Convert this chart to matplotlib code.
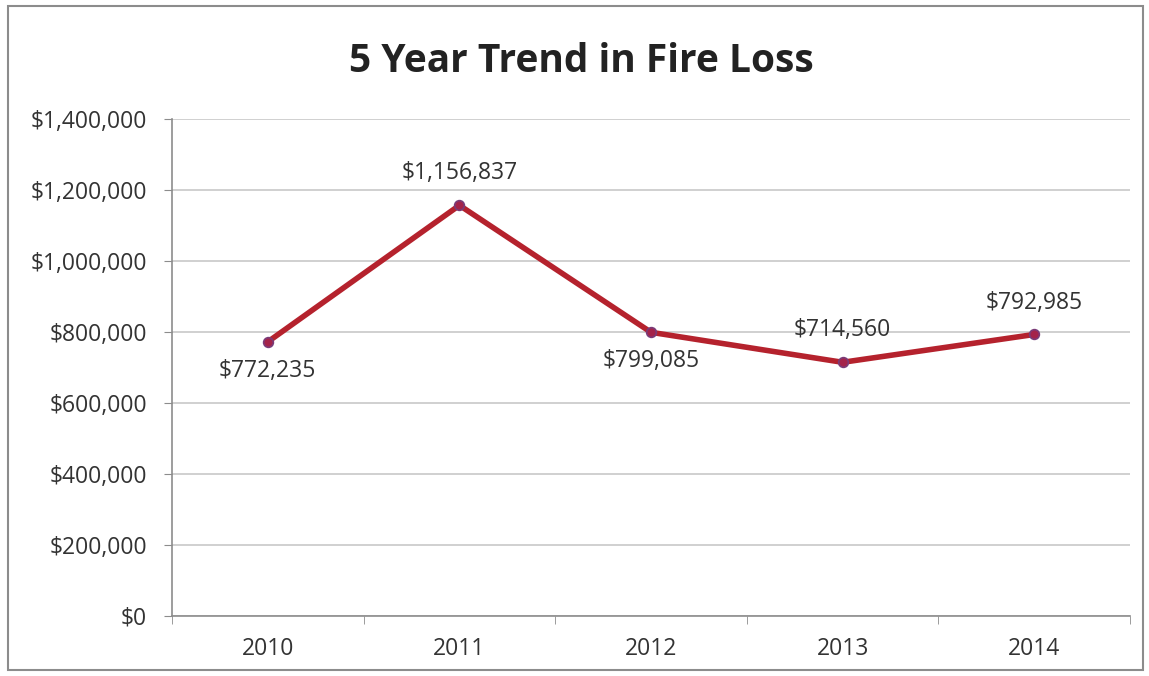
import matplotlib
matplotlib.use('Agg')
import matplotlib.pyplot as plt
from matplotlib.patches import Rectangle
from matplotlib.ticker import FuncFormatter, FixedLocator

plt.rcParams['font.family'] = ['Open Sans', 'DejaVu Sans']

years = ['2010', '2011', '2012', '2013', '2014']
fire_loss = [772235, 1156837, 799085, 714560, 792985]
label_above = [False, True, False, True, True]

fig = plt.figure(figsize=(11.49, 6.76), dpi=100)
ax = fig.add_axes([0.1497, 0.0888, 0.8338, 0.7352])

# outer chart frame
fig.patches.append(Rectangle((8 / 1149, 6 / 676), 1135 / 1149, 664 / 676,
                             transform=fig.transFigure, fill=False,
                             edgecolor='#8c8c8c', linewidth=1.5))

x = list(range(len(years)))
ax.plot(x, fire_loss, color='#b5222d', linewidth=4, solid_capstyle='round',
        marker='o', markersize=7, markerfacecolor='#a4234a',
        markeredgecolor='#7a3b78', markeredgewidth=1.2, zorder=3)

for xi, val, up in zip(x, fire_loss, label_above):
    ax.annotate('${:,.0f}'.format(val), (xi, val),
                xytext=(0, 23 if up else -21), textcoords='offset points',
                ha='center', va='center', fontsize=16.5, color='#333333')

ax.set_xlim(-0.5, len(years) - 0.5)
ax.set_ylim(0, 1400000)
ax.set_yticks(range(0, 1400001, 200000))
ax.yaxis.set_major_formatter(FuncFormatter(lambda v, p: '${:,.0f}'.format(v)))
ax.set_xticks(x)
ax.set_xticklabels(years)
ax.xaxis.set_minor_locator(FixedLocator([i - 0.5 for i in range(len(years) + 1)]))

ax.grid(axis='y', color='#c8c8c8', linewidth=1.2)
ax.set_axisbelow(True)
for s in ['top', 'right']:
    ax.spines[s].set_visible(False)
for s in ['left', 'bottom']:
    ax.spines[s].set_color('#8c8c8c')
    ax.spines[s].set_linewidth(1.2)

ax.tick_params(axis='y', length=6, color='#8c8c8c', labelsize=16.5,
               labelcolor='#333333', pad=12)
ax.tick_params(axis='x', which='major', length=0, labelsize=16.5,
               labelcolor='#333333', pad=15)
ax.tick_params(axis='x', which='minor', length=6, color='#8c8c8c')

fig.text(0.506, 0.893, '5 Year Trend in Fire Loss', ha='center',
         va='baseline', fontsize=28, fontweight='bold', color='#222222')

fig.savefig('out.png', dpi=100)
